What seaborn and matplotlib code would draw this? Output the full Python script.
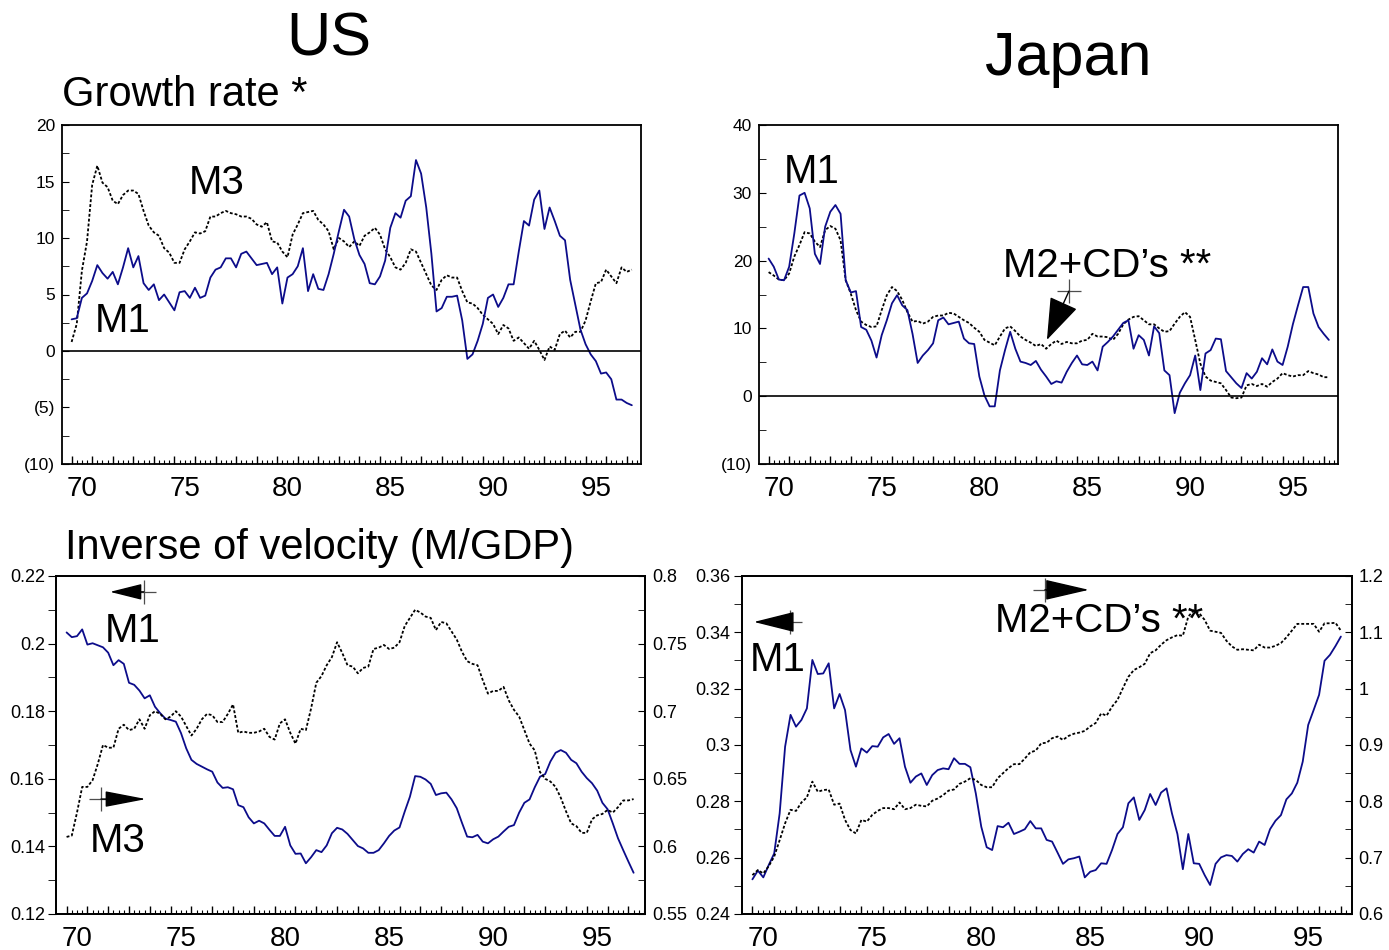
import numpy as np
import seaborn as sb
import matplotlib.pyplot as plt
from matplotlib.ticker import FuncFormatter, MultipleLocator

sb.set_style('ticks')
plt.rcParams['font.family'] = ['Liberation Sans', 'DejaVu Sans']
plt.rcParams['text.color'] = 'black'
plt.rcParams['xtick.color'] = 'black'
plt.rcParams['ytick.color'] = 'black'
plt.rcParams['axes.edgecolor'] = 'black'

# quarterly time axis, 70 = 1970, first quarter 1969 Q3
qtr = np.arange(110) * 0.25 + 69.5
qtr_jp_vel = np.arange(109) * 0.25 + 69.5
year_ticks = [70, 75, 80, 85, 90, 95]
year_labels = ['70', '75', '80', '85', '90', '95']

# growth rates (%), US
us_m1_growth = [2.8, 2.9, 4.7, 5.1, 6.2, 7.6, 6.9, 6.4, 7.0, 5.9, 7.4, 9.1, 7.4, 8.4, 6.0, 5.4,
                5.9, 4.5, 5.0, 4.3, 3.6, 5.2, 5.3, 4.7, 5.6, 4.7, 4.9, 6.5, 7.2, 7.4, 8.2, 8.2,
                7.4, 8.6, 8.8, 8.2, 7.6, 7.7, 7.8, 6.8, 7.4, 4.2, 6.5, 6.8, 7.5, 9.1, 5.3, 6.8,
                5.5, 5.4, 6.8, 8.6, 10.6, 12.5, 11.9, 9.9, 8.5,
                7.7, 6.0, 5.9, 6.6, 8.0, 10.9, 12.2, 11.8, 13.3, 13.7, 16.9, 15.7, 12.7, 8.6,
                3.5, 3.8, 4.8, 4.8, 4.9, 2.7, -0.7, -0.3, 0.9, 2.4, 4.7, 5.0, 3.9, 4.7, 5.9,
                5.9, 8.8, 11.5, 11.1, 13.4, 14.2, 10.8, 12.7, 11.5, 10.2, 9.8, 6.3, 4.1, 1.9,
                0.6, -0.3, -0.9, -2.0, -1.9, -2.5, -4.3, -4.3, -4.6, -4.8]
us_m3_growth = [0.8, 2.4, 7.1, 9.7, 14.7, 16.4, 14.9, 14.5, 13.3, 13.0, 13.8, 14.2, 14.2, 13.9,
                12.4, 11.1, 10.5, 10.2, 9.1, 8.7, 7.8, 7.8, 9.0, 9.7, 10.5, 10.4, 10.6, 11.9,
                11.9, 12.2, 12.4, 12.2, 12.1, 11.9, 11.9, 11.7, 11.2, 11.0, 11.4, 9.7, 9.6, 8.8,
                8.3, 10.3, 11.2, 12.2, 12.3, 12.4, 11.6, 11.2, 10.6, 9.0, 10.0, 9.7, 9.2, 9.7, 9.3,
                10.2, 10.5, 10.9, 10.3, 9.0, 8.3, 7.4, 7.2, 7.8, 9.0, 8.8, 7.8, 6.8, 5.8, 5.4,
                6.3, 6.7, 6.5, 6.5, 5.3, 4.3, 4.2, 3.8, 3.2, 2.8, 2.4, 1.5, 2.3, 2.0, 0.9, 1.2,
                0.7, 0.2, 0.9, 0.1, -0.8, 0.4, 0.1, 1.5, 1.8, 1.2, 1.7, 1.7, 2.7, 4.4, 6.0, 6.1,
                7.2, 6.6, 6.0, 7.4, 7.0, 7.2]

# growth rates (%), Japan
jp_m1_growth = [20.3, 19.1, 17.2, 17.1, 19.1, 24.0, 29.6, 30.0, 27.7, 21.0, 19.5, 25.0, 27.2,
                28.2, 26.9, 17.1, 15.3, 15.5, 10.2, 9.8, 8.2, 5.7, 9.0, 11.2, 13.7, 14.9, 13.4,
                12.7, 9.2, 4.9, 6.0, 6.8, 7.8, 11.2, 11.6, 10.6, 10.8, 11.0, 8.5, 7.8, 7.7, 2.9,
                0.1, -1.5, -1.5, 3.8, 6.8, 9.5, 7.0, 5.1, 4.9, 4.6,
                5.2, 3.9, 2.9, 1.8, 2.2, 2.0, 3.6, 4.9, 6.0, 4.7, 4.6, 5.1, 3.8, 7.3, 8.0, 8.8,
                9.8, 10.8, 11.2, 7.0, 9.0, 8.3, 6.0, 10.3, 9.3, 3.8, 3.1, -2.5, 0.5, 1.9, 3.1,
                6.0, 0.9, 6.3, 6.8, 8.5, 8.4, 3.7, 2.8, 1.9, 1.2, 3.4, 2.6, 3.6, 5.6, 4.7, 6.9,
                5.1, 4.6, 7.3, 10.6, 13.4, 16.1, 16.1, 12.2, 10.2, 9.2, 8.3]
jp_m2_growth = [18.3, 17.8, 17.2, 17.1, 18.1, 20.6, 22.3, 24.2, 24.0, 22.8, 22.0, 24.5, 25.1,
                24.7, 23.0, 17.1, 15.1, 12.7, 11.0, 10.5, 10.2, 10.3, 12.7, 14.9, 16.1, 15.5,
                14.2, 12.4, 11.0, 11.1, 10.7, 11.0, 11.7, 11.9, 11.9, 12.3, 12.2, 11.7, 11.2,
                10.8, 10.1, 9.5, 8.3, 7.9, 7.5, 8.8, 10.0, 10.3, 9.6, 8.8, 8.3, 7.9,
                7.4, 7.7, 7.0, 7.7, 8.2, 7.7, 8.0, 7.8, 7.8, 8.2, 8.3, 9.2, 8.8, 8.8, 8.7, 8.3,
                9.2, 10.6, 11.3, 11.7, 11.8, 11.2, 10.6, 10.6, 10.0, 9.5, 9.6, 10.7, 11.7, 12.4,
                11.7, 8.3, 4.8, 2.9, 2.3, 2.1, 1.9, 0.9, -0.2, -0.3, -0.2, 1.6, 1.8, 1.5, 1.8,
                1.4, 2.1, 2.6, 3.4, 3.1, 2.9, 3.1, 3.1, 3.7, 3.4, 3.2, 2.8, 2.8]

# inverse of velocity (M/GDP), US
us_m1_vel = [0.2033, 0.2019, 0.2022, 0.2042, 0.1997, 0.2001, 0.1995, 0.1989, 0.1973, 0.1936,
             0.1951, 0.1940, 0.1884, 0.1878, 0.1861, 0.1838, 0.1847, 0.1813, 0.1794, 0.1778,
             0.1774, 0.1769, 0.1735, 0.1690, 0.1656, 0.1644, 0.1636, 0.1628, 0.1621, 0.1589,
             0.1573, 0.1575, 0.1569, 0.1522, 0.1516, 0.1486, 0.1468, 0.1476, 0.1468, 0.1449,
             0.1431, 0.1431, 0.1458, 0.1403, 0.1378, 0.1379, 0.1350, 0.1368, 0.1389, 0.1383,
             0.1403, 0.1439, 0.1455,
             0.1450, 0.1437, 0.1419, 0.1401, 0.1394, 0.1381, 0.1381, 0.1389, 0.1409, 0.1431,
             0.1447, 0.1456, 0.1503, 0.1547, 0.1608, 0.1606, 0.1598, 0.1585, 0.1552, 0.1557,
             0.1559, 0.1539, 0.1513, 0.1470, 0.1429, 0.1427, 0.1434, 0.1414, 0.1409, 0.1421,
             0.1429, 0.1444, 0.1458, 0.1463, 0.1500, 0.1529, 0.1539, 0.1575, 0.1606, 0.1614,
             0.1651, 0.1677, 0.1685, 0.1677, 0.1656, 0.1646, 0.1621, 0.1602, 0.1587, 0.1565,
             0.1529, 0.1510, 0.1468, 0.1424, 0.1389, 0.1355, 0.1322]
us_m3_vel = [0.607, 0.608, 0.625, 0.644, 0.644, 0.649, 0.661, 0.675, 0.673, 0.673, 0.687, 0.690,
             0.686, 0.687, 0.694, 0.687, 0.697, 0.700, 0.698, 0.694, 0.696, 0.700, 0.696, 0.689,
             0.682, 0.687, 0.694, 0.698, 0.697, 0.692, 0.692, 0.698, 0.705, 0.684, 0.685, 0.684,
             0.684, 0.685, 0.687, 0.681, 0.679, 0.691, 0.694, 0.684, 0.676, 0.687, 0.686, 0.702,
             0.721, 0.726, 0.734, 0.740, 0.751,
             0.743, 0.734, 0.733, 0.728, 0.732, 0.733, 0.746, 0.747, 0.749, 0.746, 0.747, 0.751,
             0.763, 0.769, 0.775, 0.773, 0.770, 0.769, 0.760, 0.766, 0.765, 0.759, 0.753, 0.744,
             0.737, 0.735, 0.734, 0.723, 0.713, 0.715, 0.715, 0.718, 0.708, 0.701, 0.696, 0.686,
             0.676, 0.671, 0.655, 0.650, 0.648, 0.644, 0.636, 0.626, 0.617, 0.615, 0.610, 0.610,
             0.620, 0.623, 0.624, 0.627, 0.625, 0.629, 0.634, 0.634, 0.635]

# inverse of velocity (M/GDP), Japan
jp_m1_vel = [0.2523, 0.2554, 0.2530, 0.2574, 0.2615, 0.2757, 0.2994, 0.3107, 0.3065, 0.3089,
             0.3130, 0.3302, 0.3252, 0.3254, 0.3290, 0.3130, 0.3181, 0.3124, 0.2982, 0.2923,
             0.2988, 0.2973, 0.2996, 0.2994, 0.3027, 0.3039, 0.3004, 0.3024, 0.2923, 0.2866,
             0.2888, 0.2899, 0.2858, 0.2893, 0.2911, 0.2917, 0.2914, 0.2953, 0.2933, 0.2933,
             0.2921, 0.2828, 0.2710, 0.2637, 0.2627, 0.2712, 0.2708, 0.2724, 0.2684, 0.2692,
             0.2701, 0.2730,
             0.2704, 0.2704, 0.2663, 0.2657, 0.2618, 0.2578, 0.2594, 0.2598, 0.2604, 0.2530,
             0.2550, 0.2556, 0.2580, 0.2578, 0.2627, 0.2684, 0.2708, 0.2793, 0.2814, 0.2734,
             0.2769, 0.2826, 0.2787, 0.2831, 0.2846, 0.2757, 0.2684, 0.2559, 0.2684, 0.2580,
             0.2578, 0.2538, 0.2503, 0.2578, 0.2601, 0.2609, 0.2606, 0.2586, 0.2613, 0.2630,
             0.2618, 0.2657, 0.2645, 0.2701, 0.2731, 0.2751, 0.2807, 0.2828, 0.2866, 0.2941,
             0.3071, 0.3124, 0.3178, 0.3299, 0.3320, 0.3351, 0.3385]
jp_m2_vel = [0.669, 0.678, 0.672, 0.685, 0.702, 0.731, 0.761, 0.785, 0.783, 0.798, 0.807, 0.835,
             0.817, 0.820, 0.821, 0.794, 0.796, 0.767, 0.749, 0.743, 0.767, 0.764, 0.776, 0.783,
             0.788, 0.788, 0.786, 0.798, 0.786, 0.788, 0.794, 0.792, 0.791, 0.801, 0.805, 0.811,
             0.819, 0.821, 0.831, 0.835, 0.841, 0.838, 0.829, 0.825, 0.825, 0.841, 0.850, 0.859,
             0.866, 0.866, 0.876, 0.887,
             0.890, 0.903, 0.904, 0.912, 0.915, 0.909, 0.916, 0.920, 0.922, 0.925, 0.933, 0.939,
             0.956, 0.952, 0.968, 0.980, 1.001, 1.021, 1.033, 1.038, 1.044, 1.063, 1.068, 1.078,
             1.086, 1.091, 1.095, 1.094, 1.128, 1.139, 1.134, 1.122, 1.103, 1.101, 1.099, 1.085,
             1.075, 1.069, 1.070, 1.069, 1.068, 1.078, 1.073, 1.073, 1.076, 1.081, 1.091, 1.103,
             1.115, 1.115, 1.115, 1.115, 1.101, 1.116, 1.116, 1.117, 1.103]

blue = '#0c0c8a'
dots = (0, (1.6, 1.1))


def paren_fmt(v, pos):
    # negative numbers shown in brackets
    return f'({abs(v):g})' if v < 0 else f'{v:g}'


def year_axis(ax, lo, hi):
    ax.set_xlim(lo, hi)
    ax.set_xticks(np.arange(69.5, hi, 1.0))
    ax.set_xticks(np.arange(69.5, hi, 0.25), minor=True)
    ax.tick_params(axis='x', which='major', direction='in', length=6, width=1, labelbottom=False)
    ax.tick_params(axis='x', which='minor', direction='in', length=3, width=0.8)
    sec = ax.secondary_xaxis('bottom')
    sec.set_xticks(year_ticks, labels=year_labels)
    sec.tick_params(length=0, labelsize=20, pad=9)
    for s in sec.spines.values():
        s.set_visible(False)


def arrow_tag(ax, tail, tip, hl, hw):
    ax.annotate('', xy=tip, xytext=tail, xycoords='axes fraction', textcoords='axes fraction',
                arrowprops=dict(arrowstyle=f'-|>,head_length={hl},head_width={hw}',
                                color='black', lw=1.0, shrinkA=0, shrinkB=0, mutation_scale=10))
    ax.plot(tail[0], tail[1], marker='+', ms=17, mew=0.9, color='0.3',
            transform=ax.transAxes, clip_on=False)


fig = plt.figure(figsize=(13.89, 9.5), dpi=100)

# ---- US growth rate
ax1 = fig.add_axes([0.0446, 0.5116, 0.4168, 0.3568])
sb.lineplot(x=qtr, y=us_m3_growth, ax=ax1, color='black', linewidth=1.3, linestyle=dots)
sb.lineplot(x=qtr, y=us_m1_growth, ax=ax1, color=blue, linewidth=1.3)
ax1.axhline(0, color='black', linewidth=1.2)
ax1.set_ylim(-10, 20)
ax1.yaxis.set_major_locator(MultipleLocator(5))
ax1.yaxis.set_minor_locator(MultipleLocator(2.5))
ax1.yaxis.set_major_formatter(FuncFormatter(paren_fmt))
ax1.tick_params(axis='y', which='both', direction='in', length=5, labelsize=12.5, pad=5)
year_axis(ax1, 69.03, 97.19)
ax1.text(0.268, 0.796, 'M3', transform=ax1.transAxes, ha='center', fontsize=29)
ax1.text(0.105, 0.389, 'M1', transform=ax1.transAxes, ha='center', fontsize=29)

# ---- Japan growth rate
ax2 = fig.add_axes([0.5464, 0.5116, 0.4168, 0.3568])
sb.lineplot(x=qtr, y=jp_m2_growth, ax=ax2, color='black', linewidth=1.3, linestyle=dots)
sb.lineplot(x=qtr, y=jp_m1_growth, ax=ax2, color=blue, linewidth=1.3)
ax2.axhline(0, color='black', linewidth=1.2)
ax2.set_ylim(-10, 40)
ax2.yaxis.set_major_locator(MultipleLocator(10))
ax2.yaxis.set_minor_locator(MultipleLocator(5))
ax2.yaxis.set_major_formatter(FuncFormatter(paren_fmt))
ax2.tick_params(axis='y', which='both', direction='in', length=5, labelsize=12.5, pad=5)
year_axis(ax2, 69.03, 97.19)
ax2.text(0.0915, 0.829, 'M1', transform=ax2.transAxes, ha='center', fontsize=29)
ax2.text(0.601, 0.552, 'M2+CD\u2019s **', transform=ax2.transAxes, ha='center', fontsize=29)
arrow_tag(ax2, (0.5355, 0.510), (0.4974, 0.366), 2.7, 0.95)

# ---- US inverse of velocity
ax3 = fig.add_axes([0.0403, 0.0379, 0.4241, 0.3558])
sb.lineplot(x=qtr, y=us_m1_vel, ax=ax3, color=blue, linewidth=1.3)
ax3.set_ylim(0.12, 0.22)
ax3.yaxis.set_major_locator(MultipleLocator(0.02))
ax3.yaxis.set_minor_locator(MultipleLocator(0.01))
ax3.yaxis.set_major_formatter(FuncFormatter(lambda v, p: f'{v:g}'))
ax3.tick_params(axis='y', which='both', direction='out', length=6, labelsize=13, pad=2)
year_axis(ax3, 68.99, 97.3)
ax3b = ax3.twinx()
sb.lineplot(x=qtr, y=us_m3_vel, ax=ax3b, color='black', linewidth=1.3, linestyle=dots)
ax3b.set_ylim(0.55, 0.8)
ax3b.yaxis.set_major_locator(MultipleLocator(0.05))
ax3b.yaxis.set_minor_locator(MultipleLocator(0.025))
ax3b.yaxis.set_major_formatter(FuncFormatter(lambda v, p: f'{v:g}'))
ax3b.tick_params(axis='y', which='both', direction='in', length=5, labelsize=13, pad=5)
ax3.text(0.131, 0.805, 'M1', transform=ax3.transAxes, ha='center', fontsize=29)
ax3.text(0.105, 0.183, 'M3', transform=ax3.transAxes, ha='center', fontsize=29)
arrow_tag(ax3, (0.149, 0.953), (0.0917, 0.953), 2.0, 0.5)
arrow_tag(ax3, (0.0764, 0.340), (0.153, 0.340), 2.6, 0.5)

# ---- Japan inverse of velocity
ax4 = fig.add_axes([0.534, 0.0379, 0.4392, 0.3558])
sb.lineplot(x=qtr_jp_vel, y=jp_m1_vel, ax=ax4, color=blue, linewidth=1.3)
ax4.set_ylim(0.24, 0.36)
ax4.yaxis.set_major_locator(MultipleLocator(0.02))
ax4.yaxis.set_minor_locator(MultipleLocator(0.01))
ax4.yaxis.set_major_formatter(FuncFormatter(lambda v, p: f'{v:g}'))
ax4.tick_params(axis='y', which='both', direction='out', length=6, labelsize=13, pad=2)
year_axis(ax4, 69.01, 97.0)
ax4b = ax4.twinx()
sb.lineplot(x=qtr_jp_vel, y=jp_m2_vel, ax=ax4b, color='black', linewidth=1.3, linestyle=dots)
ax4b.set_ylim(0.6, 1.2)
ax4b.yaxis.set_major_locator(MultipleLocator(0.1))
ax4b.yaxis.set_minor_locator(MultipleLocator(0.05))
ax4b.yaxis.set_major_formatter(FuncFormatter(lambda v, p: f'{v:g}'))
ax4b.tick_params(axis='y', which='both', direction='in', length=5, labelsize=13, pad=5)
ax4.text(0.0595, 0.719, 'M1', transform=ax4.transAxes, ha='center', fontsize=29)
ax4.text(0.586, 0.834, 'M2+CD\u2019s **', transform=ax4.transAxes, ha='center', fontsize=29)
arrow_tag(ax4, (0.079, 0.864), (0.020, 0.864), 2.6, 0.65)
arrow_tag(ax4, (0.497, 0.959), (0.569, 0.959), 2.8, 0.65)

for a in [ax1, ax2, ax3, ax4, ax3b, ax4b]:
    a.set_xlabel('')
    a.set_ylabel('')
    for s in a.spines.values():
        s.set_visible(True)
        s.set_linewidth(1.3)
        s.set_color('black')

fig.text(0.2369, 0.9421, 'US', ha='center', fontsize=44)
fig.text(0.769, 0.921, 'Japan', ha='center', fontsize=44)
fig.text(0.0446, 0.888, 'Growth rate *', fontsize=30)
fig.text(0.0468, 0.4116, 'Inverse of velocity (M/GDP)', fontsize=30)

fig.savefig('out.png', dpi=100)
